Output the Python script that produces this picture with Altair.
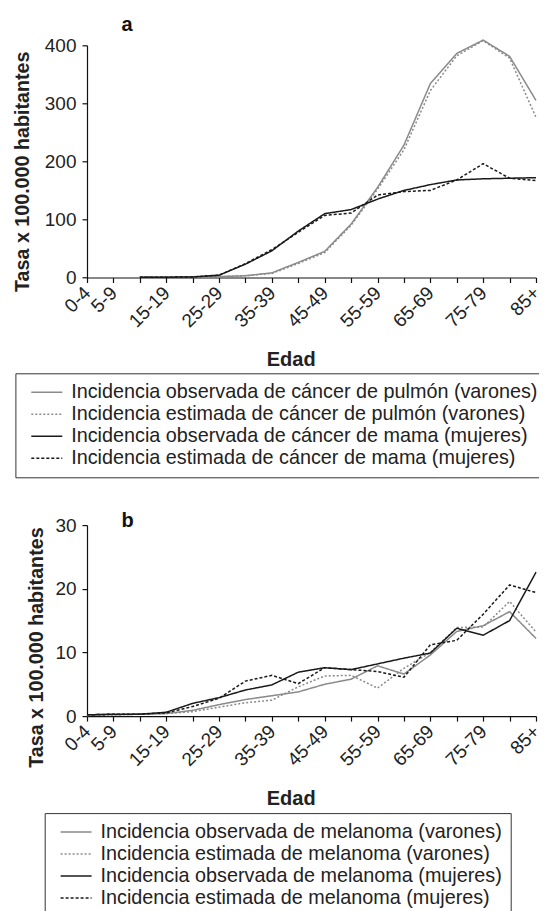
import json
import altair as alt
import pandas as pd

FONT = "Liberation Sans"

edades = ["0-4", "5-9", "10-14", "15-19", "20-24", "25-29", "30-34", "35-39", "40-44",
          "45-49", "50-54", "55-59", "60-64", "65-69", "70-74", "75-79", "80-84", "85+"]
etiquetas_visibles = ["0-4", "5-9", "15-19", "25-29", "35-39", "45-49", "55-59", "65-69", "75-79", "85+"]

# Panel a
series_a = [
    "Incidencia observada de cáncer de pulmón (varones)",
    "Incidencia estimada de cáncer de pulmón (varones)",
    "Incidencia observada de cáncer de mama (mujeres)",
    "Incidencia estimada de cáncer de mama (mujeres)",
]
pulmon_obs = [None, None, 0.3, 0.3, 0.5, 1.5, 3, 8, 26, 45, 92, 155, 228, 334, 386, 409, 381, 305]
pulmon_est = [None, None, 0.3, 0.3, 0.5, 1.5, 3, 7, 24, 43, 90, 152, 220, 322, 382, 408, 378, 276]
mama_obs = [None, None, 0.3, 0.5, 1, 4, 23, 46, 80, 110, 117, 135, 150, 160, 168, 170, 171, 172]
mama_est = [None, None, 0.3, 0.5, 1, 4, 24, 48, 78, 107, 111, 142, 148, 150, 168, 196, 171, 167]

# Panel b
series_b = [
    "Incidencia observada de melanoma (varones)",
    "Incidencia estimada de melanoma (varones)",
    "Incidencia observada de melanoma (mujeres)",
    "Incidencia estimada de melanoma (mujeres)",
]
mel_var_obs = [0.2, 0.2, 0.3, 0.4, 0.9, 1.8, 2.6, 3.2, 3.8, 5.0, 5.8, 7.9, 6.6, 9.6, 13.3, 14.2, 16.4, 12.2]
mel_var_est = [0.1, 0.2, 0.3, 0.4, 0.7, 1.4, 2.1, 2.5, 4.6, 6.3, 6.4, 4.4, 7.5, 10.0, 13.9, 14.0, 18.0, 13.2]
mel_muj_obs = [0.2, 0.3, 0.3, 0.6, 2.0, 2.9, 4.1, 4.9, 6.9, 7.6, 7.3, 8.2, 9.1, 9.9, 13.8, 12.7, 15.0, 22.6]
mel_muj_est = [0.2, 0.3, 0.3, 0.5, 1.5, 2.8, 5.5, 6.4, 5.1, 7.6, 7.3, 7.0, 6.1, 11.2, 11.9, 16.0, 20.6, 19.4]

colores = ["#8a8a8a", "#8a8a8a", "#1a1a1a", "#1a1a1a"]
trazos = [[1, 0], [2, 2], [1, 0], [3, 2]]


def make_df(series, values):
    rows = []
    for s, vals in zip(series, values):
        for i, (e, v) in enumerate(zip(edades, vals)):
            if v is not None:
                rows.append({"edad": e, "orden": i, "tasa": v, "serie": s})
    return pd.DataFrame(rows)


label_expr = "indexof(%s, datum.label) >= 0 ? datum.label : ''" % json.dumps(etiquetas_visibles)


def panel(df, series, ymax, yticks, letra, letra_offset, alto, ytx, yty, leg_x, leg_y):
    legend = alt.Legend(
        orient="none", legendX=leg_x, legendY=leg_y, direction="vertical", title=None,
        symbolType="stroke", symbolSize=961, symbolStrokeWidth=1.5, symbolOffset=6.9,
        labelOffset=7.9, labelFont=FONT, labelFontSize=19.8, labelColor="#222",
        labelLimit=1000, padding=8, strokeColor="#333", rowPadding=0, clipHeight=21.7,
    )
    return alt.Chart(df).mark_line(strokeWidth=1.5).encode(
        x=alt.X(
            "edad:O",
            scale=alt.Scale(type="point", padding=0, domain=edades),
            axis=alt.Axis(
                title="Edad", titleFont=FONT, titleFontSize=20, titleFontWeight="bold",
                titleColor="#222", titleX=203.7, titleY=88, titleBaseline="alphabetic",
                labelAngle=-45, labelAlign="right", labelBaseline="middle", labelPadding=7,
                labelFont=FONT, labelFontSize=19, labelColor="#222", labelExpr=label_expr,
                labelOverlap=False, tickSize=5, tickColor="#111", tickWidth=1.2,
                domainColor="#111", domainWidth=1.2, grid=False,
            ),
        ),
        y=alt.Y(
            "tasa:Q",
            scale=alt.Scale(domain=[0, ymax], nice=False, zero=True),
            axis=alt.Axis(
                values=yticks, title="Tasa x 100.000 habitantes", titleFont=FONT,
                titleFontSize=19.7, titleFontWeight="bold", titleColor="#222",
                titleX=ytx, titleY=yty, titleBaseline="alphabetic", titleAngle=270,
                labelFont=FONT, labelFontSize=19, labelColor="#222", labelPadding=6,
                tickSize=5, tickColor="#111", tickWidth=1.2, domainColor="#111",
                domainWidth=1.2, grid=False,
            ),
        ),
        color=alt.Color("serie:N", scale=alt.Scale(domain=series, range=colores), legend=legend),
        strokeDash=alt.StrokeDash("serie:N", scale=alt.Scale(domain=series, range=trazos), legend=legend),
        order=alt.Order("orden:Q"),
    ).properties(
        width=449, height=alto,
        title=alt.TitleParams(
            text=letra, anchor="start", dx=34.4, offset=letra_offset, frame="group",
            baseline="alphabetic", font=FONT, fontSize=20, fontWeight="bold", color="#111",
        ),
    )


df_a = make_df(series_a, [pulmon_obs, pulmon_est, mama_obs, mama_est])
df_b = make_df(series_b, [mel_var_obs, mel_var_est, mel_muj_obs, mel_muj_est])

pa = panel(df_a, series_a, 400, [0, 100, 200, 300, 400], "a", -14.3, 232.2, -59, 126, -71.6, 328)
pb = panel(df_b, series_b, 30, [0, 10, 20, 30], "b", -31, 191, -45, 122, -42.3, 288)

chart = alt.vconcat(pa, pb, spacing=246.8, bounds="flush").resolve_scale(
    y="independent", color="independent", strokeDash="independent"
).resolve_legend(color="independent", strokeDash="independent").properties(
    padding={"left": 3, "top": 6.3, "right": -8, "bottom": 0}
).configure_view(stroke=None)

chart.save("out.html", embed_options={"renderer": "svg", "actions": False})
